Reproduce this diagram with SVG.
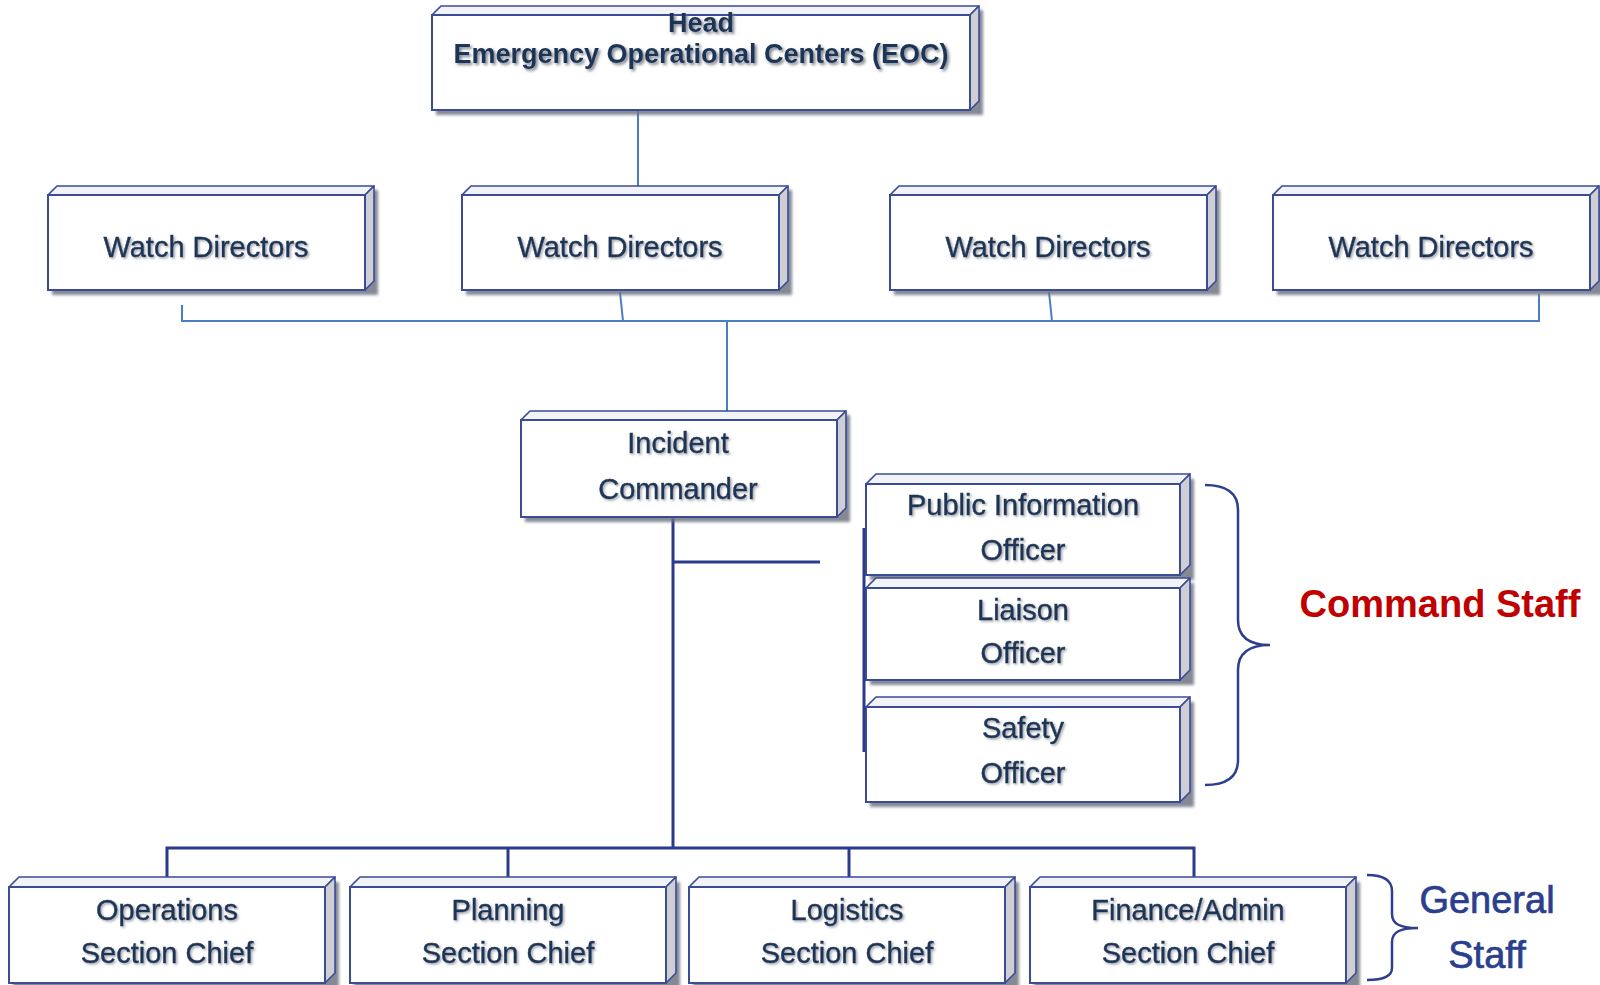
<svg xmlns="http://www.w3.org/2000/svg" width="1600" height="985" viewBox="0 0 1600 985">
<style>
.front{fill:#ffffff;stroke:#3b4c96;stroke-width:2}
.top{fill:#f2f3f8;stroke:#3b4c96;stroke-width:1.6;stroke-linejoin:round}
.side{fill:#cfcfd3;stroke:#3b4c96;stroke-width:1.6;stroke-linejoin:round}
.shadow{fill:#6f7582;opacity:0.85;filter:url(#blur)}
.t{font-family:"Liberation Sans",Arial,sans-serif;font-size:29px;fill:#1d3557;text-anchor:middle;stroke:#1d3557;stroke-width:0.45;filter:url(#ts)}
.th{font-family:"Liberation Sans",Arial,sans-serif;font-size:27px;font-weight:bold;fill:#1d3557;text-anchor:middle;filter:url(#ts2)}
.c1{fill:none;stroke:#4a7ec0;stroke-width:2}
.c2{fill:none;stroke:#2a3a8c;stroke-width:3}
.brace{fill:none;stroke:#2f3f8f;stroke-width:2.5}
</style>
<defs>
<filter id="blur" x="-10%" y="-10%" width="120%" height="130%"><feGaussianBlur stdDeviation="1.5"/></filter>
<filter id="ts" x="-10%" y="-30%" width="120%" height="160%"><feDropShadow dx="1.5" dy="1.5" stdDeviation="1" flood-color="#8a8f99" flood-opacity="0.8"/></filter>
<filter id="ts2" x="-10%" y="-30%" width="120%" height="160%"><feDropShadow dx="2" dy="2" stdDeviation="1.5" flood-color="#6d7380" flood-opacity="0.9"/></filter>
</defs>
<rect width="1600" height="985" fill="#ffffff"/>

<g id="connectors">
<path class="c1" d="M638 110 V186"/>
<path class="c1" d="M182 305 V321 H1539 V294"/>
<path class="c1" d="M620 292 L623 321"/>
<path class="c1" d="M1049 292 L1052 321"/>
<path class="c1" d="M727 321 V411"/>
<path class="c2" d="M673 517 V848"/>
<path class="c2" d="M673 562 H820"/>
<path class="c2" d="M167 877 V848 H1194 V877"/>
<path class="c2" d="M508 848 V877"/>
<path class="c2" d="M849 848 V877"/>
<path class="c2" d="M864 528 V752"/>
</g>

<g id="head">
<rect class="shadow" x="436" y="10" width="547" height="105"/>
<polygon class="top" points="432,15 441,6 979,6 970,15"/>
<polygon class="side" points="970,15 979,6 979,101 970,110"/>
<rect class="front" x="432" y="15" width="538" height="95"/>
<text class="th" x="701" y="32">Head</text>
<text class="th" x="701" y="63">Emergency Operational Centers (EOC)</text>
</g>

<g id="wd1">
<rect class="shadow" x="52" y="190" width="326" height="105"/>
<polygon class="top" points="48,195 57,186 374,186 365,195"/>
<polygon class="side" points="365,195 374,186 374,281 365,290"/>
<rect class="front" x="48" y="195" width="317" height="95"/>
<text class="t" x="206" y="257">Watch Directors</text>
</g>
<g id="wd2">
<rect class="shadow" x="466" y="190" width="326" height="105"/>
<polygon class="top" points="462,195 471,186 788,186 779,195"/>
<polygon class="side" points="779,195 788,186 788,281 779,290"/>
<rect class="front" x="462" y="195" width="317" height="95"/>
<text class="t" x="620" y="257">Watch Directors</text>
</g>
<g id="wd3">
<rect class="shadow" x="894" y="190" width="326" height="105"/>
<polygon class="top" points="890,195 899,186 1216,186 1207,195"/>
<polygon class="side" points="1207,195 1216,186 1216,281 1207,290"/>
<rect class="front" x="890" y="195" width="317" height="95"/>
<text class="t" x="1048" y="257">Watch Directors</text>
</g>
<g id="wd4">
<rect class="shadow" x="1277" y="190" width="326" height="105"/>
<polygon class="top" points="1273,195 1282,186 1599,186 1590,195"/>
<polygon class="side" points="1590,195 1599,186 1599,281 1590,290"/>
<rect class="front" x="1273" y="195" width="317" height="95"/>
<text class="t" x="1431" y="257">Watch Directors</text>
</g>

<g id="incident-commander">
<rect class="shadow" x="525" y="415" width="325" height="107"/>
<polygon class="top" points="521,420 530,411 846,411 837,420"/>
<polygon class="side" points="837,420 846,411 846,508 837,517"/>
<rect class="front" x="521" y="420" width="316" height="97"/>
<text class="t" x="678" y="453">Incident</text>
<text class="t" x="678" y="499">Commander</text>
</g>

<g id="pio">
<rect class="shadow" x="870" y="479" width="324" height="101"/>
<polygon class="top" points="866,484 876,474 1190,474 1180,484"/>
<polygon class="side" points="1180,484 1190,474 1190,565 1180,575"/>
<rect class="front" x="866" y="484" width="314" height="91"/>
<text class="t" x="1023" y="515">Public Information</text>
<text class="t" x="1023" y="560">Officer</text>
</g>
<g id="liaison">
<rect class="shadow" x="870" y="583" width="324" height="102"/>
<polygon class="top" points="866,588 876,578 1190,578 1180,588"/>
<polygon class="side" points="1180,588 1190,578 1190,670 1180,680"/>
<rect class="front" x="866" y="588" width="314" height="92"/>
<text class="t" x="1023" y="620">Liaison</text>
<text class="t" x="1023" y="663">Officer</text>
</g>
<g id="safety">
<rect class="shadow" x="870" y="702" width="324" height="105"/>
<polygon class="top" points="866,707 876,697 1190,697 1180,707"/>
<polygon class="side" points="1180,707 1190,697 1190,792 1180,802"/>
<rect class="front" x="866" y="707" width="314" height="95"/>
<text class="t" x="1023" y="738">Safety</text>
<text class="t" x="1023" y="783">Officer</text>
</g>

<g id="command-staff">
<path class="brace" d="M1205 485 C1226 485 1238 492 1238 510 V620 C1238 638 1250 645 1270 645 C1250 645 1238 652 1238 670 V760 C1238 778 1226 785 1205 785"/>
<text x="1440" y="617" font-family="'Liberation Sans',Arial,sans-serif" font-size="38" font-weight="bold" fill="#c00000" text-anchor="middle">Command Staff</text>
</g>

<g id="operations">
<rect class="shadow" x="13" y="882" width="326" height="106"/>
<polygon class="top" points="9,887 19,877 335,877 325,887"/>
<polygon class="side" points="325,887 335,877 335,973 325,983"/>
<rect class="front" x="9" y="887" width="316" height="96"/>
<text class="t" x="167" y="920">Operations</text>
<text class="t" x="167" y="963">Section Chief</text>
</g>
<g id="planning">
<rect class="shadow" x="354" y="882" width="326" height="106"/>
<polygon class="top" points="350,887 360,877 676,877 666,887"/>
<polygon class="side" points="666,887 676,877 676,973 666,983"/>
<rect class="front" x="350" y="887" width="316" height="96"/>
<text class="t" x="508" y="920">Planning</text>
<text class="t" x="508" y="963">Section Chief</text>
</g>
<g id="logistics">
<rect class="shadow" x="693" y="882" width="326" height="106"/>
<polygon class="top" points="689,887 699,877 1015,877 1005,887"/>
<polygon class="side" points="1005,887 1015,877 1015,973 1005,983"/>
<rect class="front" x="689" y="887" width="316" height="96"/>
<text class="t" x="847" y="920">Logistics</text>
<text class="t" x="847" y="963">Section Chief</text>
</g>
<g id="finance">
<rect class="shadow" x="1034" y="882" width="326" height="106"/>
<polygon class="top" points="1030,887 1040,877 1356,877 1346,887"/>
<polygon class="side" points="1346,887 1356,877 1356,973 1346,983"/>
<rect class="front" x="1030" y="887" width="316" height="96"/>
<text class="t" x="1188" y="920">Finance/Admin</text>
<text class="t" x="1188" y="963">Section Chief</text>
</g>

<g id="general-staff">
<path class="brace" d="M1367 875 C1383 875 1392 880 1392 891 V914 C1392 924 1400 928 1418 928 C1400 928 1392 932 1392 942 V968 C1392 976 1383 980 1367 980"/>
<text x="1487" y="913" font-family="'Liberation Sans',Arial,sans-serif" font-size="38" fill="#2b3f8e" stroke="#2b3f8e" stroke-width="0.7" text-anchor="middle">General</text>
<text x="1487" y="968" font-family="'Liberation Sans',Arial,sans-serif" font-size="38" fill="#2b3f8e" stroke="#2b3f8e" stroke-width="0.7" text-anchor="middle">Staff</text>
</g>
</svg>
